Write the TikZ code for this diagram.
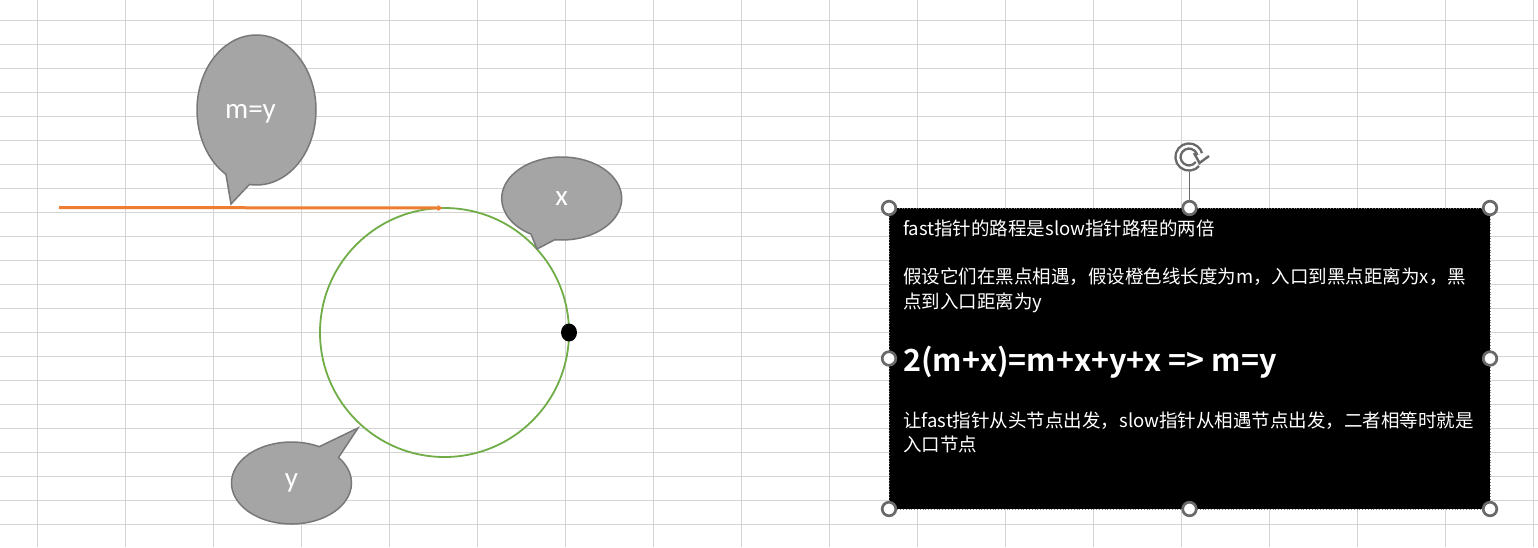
\documentclass[tikz,border=0pt]{standalone}
\usepackage{fontspec}
\setmainfont{Carlito}
\newfontfamily\cjk{Noto Sans CJK SC}[BoldFont={Noto Sans CJK SC Bold}]
\usepackage{tikz}
\usetikzlibrary{calc,shapes.geometric,shapes.callouts,arrows.meta,positioning}
\definecolor{gridgray}{HTML}{D4D4D4}
\definecolor{bubblefill}{HTML}{A5A5A5}
\definecolor{bubbleedge}{HTML}{787878}
\definecolor{handlegray}{HTML}{696969}
\definecolor{pathorange}{HTML}{ED7D31}
\definecolor{loopgreen}{HTML}{70AD47}

\begin{document}
\begin{tikzpicture}[x=1pt,y=-1pt,
  gridline/.style={gridgray, line width=1pt},
  bubble/.style={ellipse callout, fill=bubblefill, draw=bubbleedge, line width=1.5pt,
    inner sep=0pt, text=white, font=\fontsize{29}{32}\selectfont, callout pointer arc=24},
  bubblelabel/.style={inner sep=0pt, text=white, font=\fontsize{29}{32}\selectfont},
  handle/.style={draw=handlegray, fill=white, line width=2.7pt},
  notetext/.style={anchor=base west, inner sep=0pt, text=white,
    font=\cjk\fontsize{18.5}{22}\selectfont}]

  \useasboundingbox (0,0) rectangle (1538,547);
  \fill[white] (0,0) rectangle (1538,547);

  % sheet grid
  \foreach \gx in {37,125,...,1533}
    \draw[gridline] (\gx,0) -- (\gx,547);
  \foreach \gy in {20,44,...,524}
    \draw[gridline] (0,\gy) -- (1538,\gy);

  % the loop and the path into it
  \node[circle, draw=loopgreen, line width=1.8pt, minimum size=249, inner sep=0pt, outer sep=0pt] (ring) at (444.5,332.5) {};
  \coordinate (pathstart) at (59,207.5);
  \draw[pathorange, line width=3pt, -{Triangle[width=6pt,length=5pt]}] (pathstart) -- ($(ring.north)+(-2,0)$);
  \node[ellipse, fill=black, minimum width=16, minimum height=18, inner sep=0pt] (meet) at (ring.east) {};

  % callouts
  \node[bubble, minimum width=119, minimum height=150, callout absolute pointer={(231,204)}] (bubbleM) at (256.5,110) {};
  \node[bubblelabel] (labelM) at ($(bubbleM.center)+(-6,4)$) {m=y};
  \node[bubble, minimum width=120, minimum height=83, callout absolute pointer={(537,249)}] (bubbleX) at (561.7,198.5) {x};
  \node[bubble, minimum width=120, minimum height=82, callout absolute pointer={(358,428)}] (bubbleY) at (291.5,483) {y};

  % note box
  \node[rectangle, fill=black, draw=gray, dotted, line width=0.8pt, minimum width=601, minimum height=301,
    inner sep=0pt, outer sep=0pt, anchor=north west] (notebox) at (889,208) {};
  \node[notetext] (line1) at (903,235) {fast指针的路程是slow指针路程的两倍};
  \node[notetext] (line2) at (903,283) {假设它们在黑点相遇，假设橙色线长度为m，入口到黑点距离为x，黑};
  \node[notetext] (line3) at (903,308) {点到入口距离为y};
  \node[notetext, font=\cjk\bfseries\fontsize{30.5}{36}\selectfont] (formula) at (903,371) {2(m+x)=m+x+y+x\ => m=y};
  \node[notetext] (line5) at (903,427) {让fast指针从头节点出发，slow指针从相遇节点出发，二者相等时就是};
  \node[notetext] (line6) at (903,451) {入口节点};

  % selection handles
  \draw[handlegray, line width=1pt] (notebox.north) -- ++(0,-36);
  \foreach \a in {north west,north,north east,west,east,south west,south,south east}
    \draw[handle] (notebox.\a) circle (6.8);
  \draw[handlegray, line width=2.4pt, double=white, double distance=2.6pt]
    (1189,157) ++(40:11) arc[start angle=40, end angle=345, radius=11];
  \draw[handlegray, line width=2.4pt, line join=miter] (1194,153) -- (1199.5,163) -- (1209,156);

\end{tikzpicture}
\end{document}
